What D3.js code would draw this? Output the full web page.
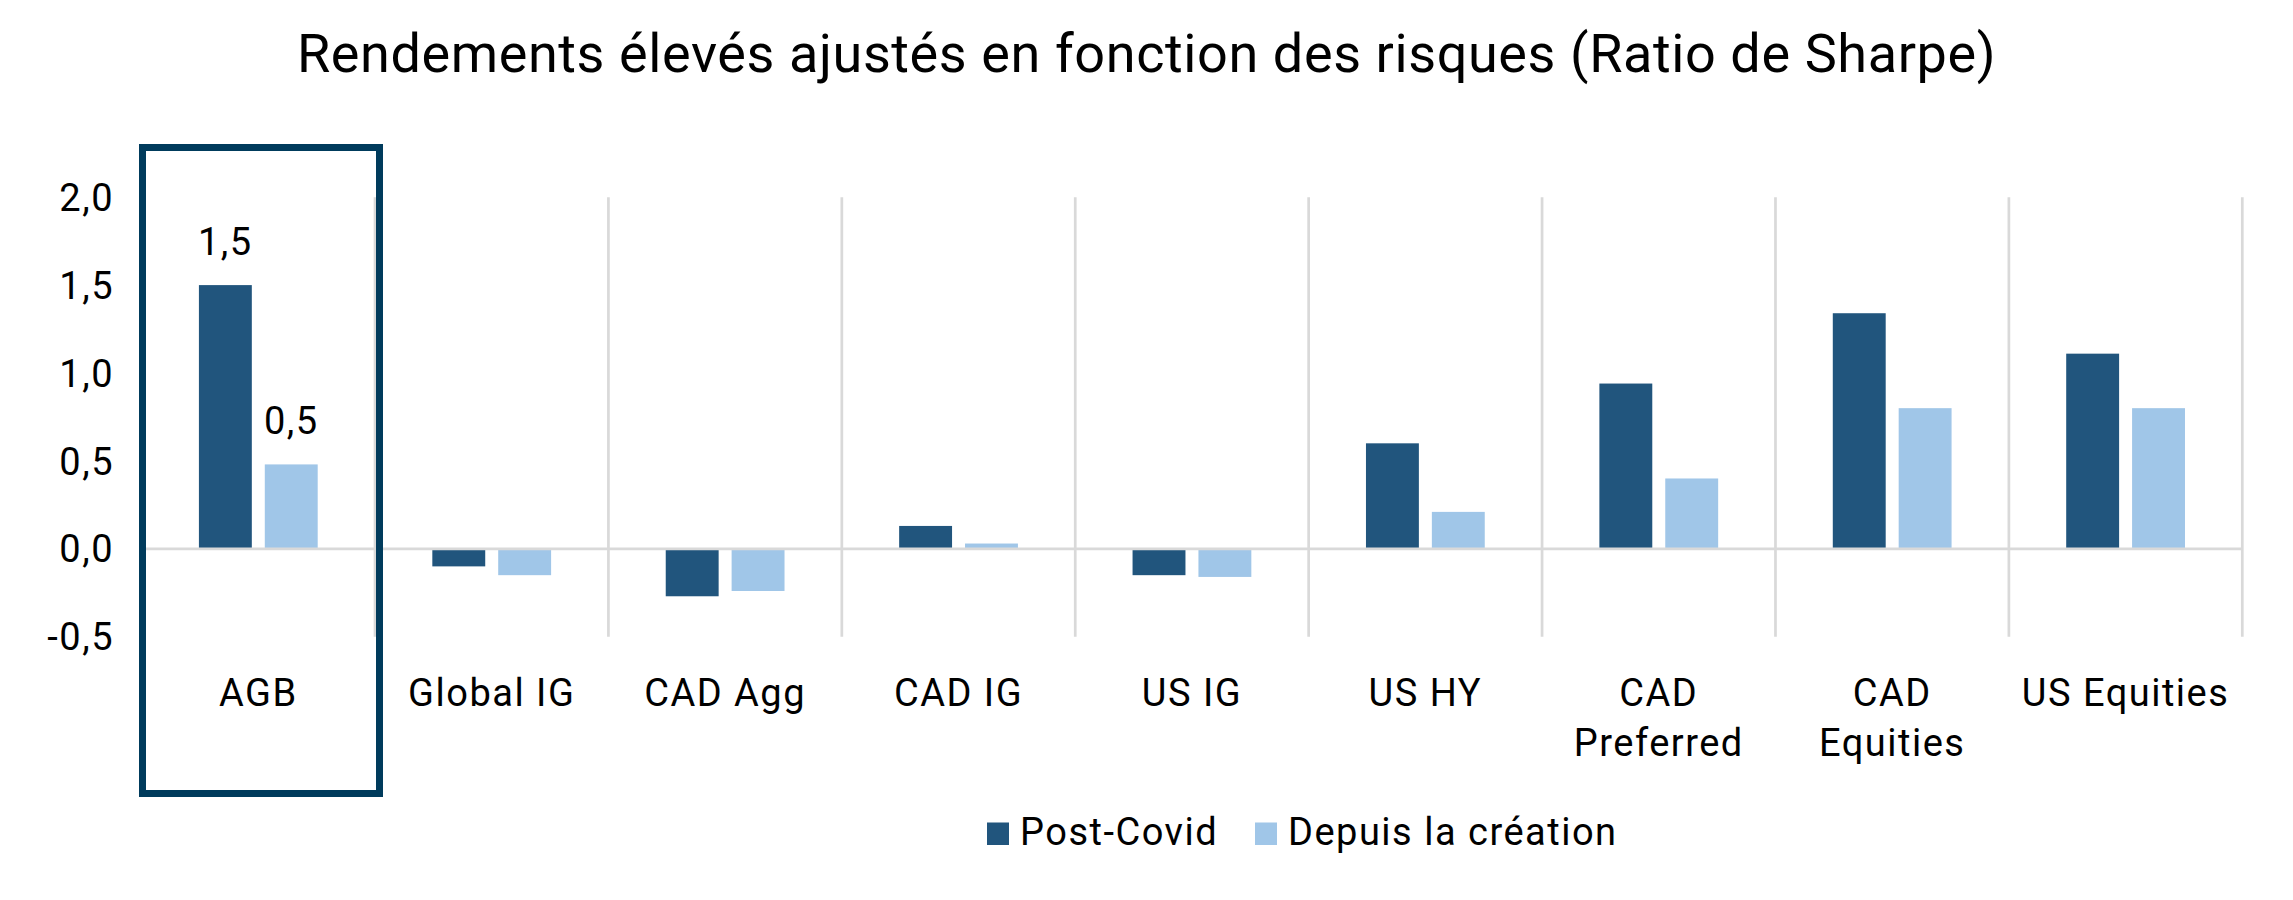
<!DOCTYPE html>
<html>
<head>
<meta charset="utf-8">
<script src="https://cdn.jsdelivr.net/npm/d3@7/dist/d3.min.js"></script>
<style>
  body { margin: 0; background: #fff; }
  svg { display: block; font-family: Roboto, "Noto Sans", sans-serif; }
  .tick-label, .cat-label, .legend-text, .data-label { font-size: 38px; fill: #000; letter-spacing: 1.5px; }
  .title { font-size: 54px; fill: #000; letter-spacing: 0.6px; }
</style>
</head>
<body>
<svg id="chart" width="2293" height="900"></svg>
<script>
// chart data
var categories = ['AGB', 'Global IG', 'CAD Agg', 'CAD IG', 'US IG', 'US HY', 'CAD\nPreferred', 'CAD\nEquities', 'US Equities'];
var seriesNames = ['Post-Covid', 'Depuis la création'];
var postCovid = [1.50, -0.10, -0.27, 0.13, -0.15, 0.60, 0.94, 1.34, 1.11];
var depuisCreation = [0.48, -0.15, -0.24, 0.03, -0.16, 0.21, 0.40, 0.80, 0.80];
var yTicks = [-0.5, 0, 0.5, 1.0, 1.5, 2.0];
var highlighted = 'AGB';

var colors = ['#21557d', '#a0c6e8'];
var gridColor = '#d9d9d9';
var boxColor = '#003b5c';

var svg = d3.select('#chart');
var width = 2293;

var x0 = d3.scaleBand().domain(d3.range(categories.length)).range([141.6, 2242.3]).paddingInner(0).paddingOuter(0);
var x1 = d3.scaleBand().domain(d3.range(seriesNames.length)).range([0, x0.bandwidth()])
    .paddingInner(0.197).paddingOuter(0.87);
var y = d3.scaleLinear().domain([-0.5, 2.0]).range([636.7, 197.2]);

var fmt = function(v) { return d3.format('.1f')(v).replace('.', ',').replace('−', '-'); };

// title
svg.append('text')
    .attr('class', 'title')
    .attr('x', width / 2)
    .attr('y', 72)
    .attr('text-anchor', 'middle')
    .text('Rendements élevés ajustés en fonction des risques (Ratio de Sharpe)');

// vertical separators
var bounds = d3.range(categories.length + 1).map(function(i) {
  return i < categories.length ? x0(i) : x0(i - 1) + x0.bandwidth();
});
svg.append('g').selectAll('line')
    .data(bounds)
    .enter()
    .append('line')
    .attr('x1', function(d) { return d; })
    .attr('x2', function(d) { return d; })
    .attr('y1', y(2.0))
    .attr('y2', y(-0.5))
    .attr('stroke', gridColor)
    .attr('stroke-width', 2.7);

// bars
var rows = categories.map(function(c, i) {
  return [{ci: i, si: 0, v: postCovid[i]}, {ci: i, si: 1, v: depuisCreation[i]}];
});

var group = svg.append('g').selectAll('g')
    .data(rows)
    .enter()
    .append('g')
    .attr('transform', function(d, i) { return 'translate(' + x0(i) + ',0)'; });

group.selectAll('rect')
    .data(function(d) { return d; })
    .enter()
    .append('rect')
    .attr('x', function(d) { return x1(d.si); })
    .attr('width', x1.bandwidth())
    .attr('y', function(d) { return y(Math.max(0, d.v)); })
    .attr('height', function(d) { return Math.abs(y(d.v) - y(0)); })
    .attr('fill', function(d) { return colors[d.si]; });

// zero line
svg.append('line')
    .attr('x1', x0.range()[0])
    .attr('x2', x0.range()[1])
    .attr('y1', y(0))
    .attr('y2', y(0))
    .attr('stroke', gridColor)
    .attr('stroke-width', 2.7);

// data labels for highlighted category
var hi = categories.indexOf(highlighted);
group.filter(function(d, i) { return i === hi; })
    .selectAll('.data-label')
    .data(function(d) { return d; })
    .enter()
    .append('text')
    .attr('class', 'data-label')
    .attr('text-anchor', 'middle')
    .attr('x', function(d) { return x1(d.si) + x1.bandwidth() / 2; })
    .attr('y', function(d) { return y(d.v) - 30; })
    .text(function(d) { return fmt(d.v); });

// y tick labels
svg.append('g').selectAll('text')
    .data(yTicks)
    .enter()
    .append('text')
    .attr('class', 'tick-label')
    .attr('text-anchor', 'end')
    .attr('x', 114)
    .attr('y', function(d) { return y(d); })
    .attr('dy', '0.36em')
    .text(fmt);

// category labels
var cat = svg.append('g').selectAll('text')
    .data(categories)
    .enter()
    .append('text')
    .attr('class', 'cat-label')
    .attr('text-anchor', 'middle')
    .attr('x', function(d, i) { return x0(i) + x0.bandwidth() / 2; })
    .attr('y', 706);

cat.selectAll('tspan')
    .data(function(d) { return d.split('\n'); })
    .enter()
    .append('tspan')
    .attr('x', function() { return d3.select(this.parentNode).attr('x'); })
    .attr('dy', function(d, i) { return i === 0 ? 0 : 50; })
    .text(function(d) { return d; });

// highlight box
svg.append('rect')
    .attr('x', x0(hi) + 0.9)
    .attr('y', 147.5)
    .attr('width', 237)
    .attr('height', 646)
    .attr('fill', 'none')
    .attr('stroke', boxColor)
    .attr('stroke-width', 7);

// legend
var legendX = [987, 1255];
var legend = svg.append('g').selectAll('g')
    .data(seriesNames)
    .enter()
    .append('g')
    .attr('transform', function(d, i) { return 'translate(' + legendX[i] + ',845)'; });

legend.append('rect')
    .attr('x', 0)
    .attr('y', -22.5)
    .attr('width', 22)
    .attr('height', 22.5)
    .attr('fill', function(d, i) { return colors[i]; });

legend.append('text')
    .attr('class', 'legend-text')
    .attr('x', 33)
    .attr('y', 0)
    .text(function(d) { return d; });
</script>
</body>
</html>
